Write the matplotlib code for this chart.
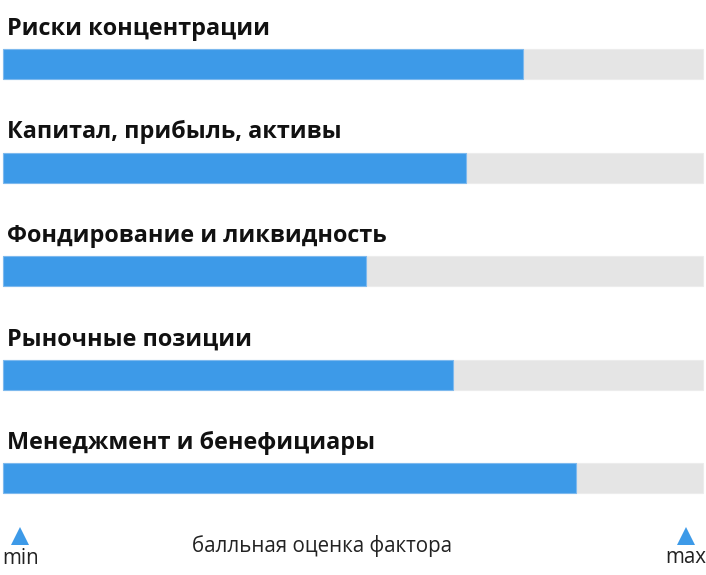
import matplotlib.pyplot as plt
from matplotlib.patches import Rectangle

# --- данные ---
factors = [
    'Риски концентрации',
    'Капитал, прибыль, активы',
    'Фондирование и ликвидность',
    'Рыночные позиции',
    'Менеджмент и бенефициары',
]
scores = [0.743, 0.661, 0.518, 0.642, 0.818]   # доля от максимума
axis_caption = 'балльная оценка фактора'
min_label = 'min'
max_label = 'max'

BLUE = '#3d9ae8'
GRAY = '#e5e5e5'

W, H = 706, 575
fig = plt.figure(figsize=(W / 100, H / 100), dpi=100)
ax = fig.add_axes([0, 0, 1, 1])

# шкала: 0..1 -> пиксели 3.3..703.3, строки по 103.5 px
x0, span = 3.3, 700.0
y0, step = 64.3, 103.5
ax.set_xlim(-x0 / span, (W - x0) / span)
ax.set_ylim((H - y0) / step, -y0 / step)
ax.axis('off')

bar_h = 30 / step
for i, (name, val) in enumerate(zip(factors, scores)):
    ax.add_patch(Rectangle((0, i - bar_h / 2), 1.0, bar_h,
                           facecolor=GRAY, edgecolor='#ececec', linewidth=0.8))
    ax.add_patch(Rectangle((0, i - bar_h / 2), val, bar_h,
                           facecolor=BLUE, edgecolor='#7db9ee', linewidth=0.8))
    ax.text(4 / span, i - 29.3 / step, name, fontsize=16.8, fontweight='bold',
            family='Open Sans', color='#111111', ha='left', va='baseline')

# нижняя подпись шкалы
y_tri = (536 - y0) / step
ax.plot([(20 - x0) / span, (686 - x0) / span], [y_tri, y_tri], linestyle='none',
        marker='^', markersize=13, color=BLUE, markeredgewidth=0)
ax.text((21 - x0) / span, (564 - y0) / step, min_label, fontsize=14.8,
        family='Open Sans', color='#222222', ha='center', va='baseline')
ax.text((686 - x0) / span, (563 - y0) / step, max_label, fontsize=14.8,
        family='Open Sans', color='#222222', ha='center', va='baseline')
ax.text((322 - x0) / span, (552 - y0) / step, axis_caption, fontsize=14.8,
        family='Open Sans', color='#222222', ha='center', va='baseline')

fig.savefig('out.png', dpi=100)
